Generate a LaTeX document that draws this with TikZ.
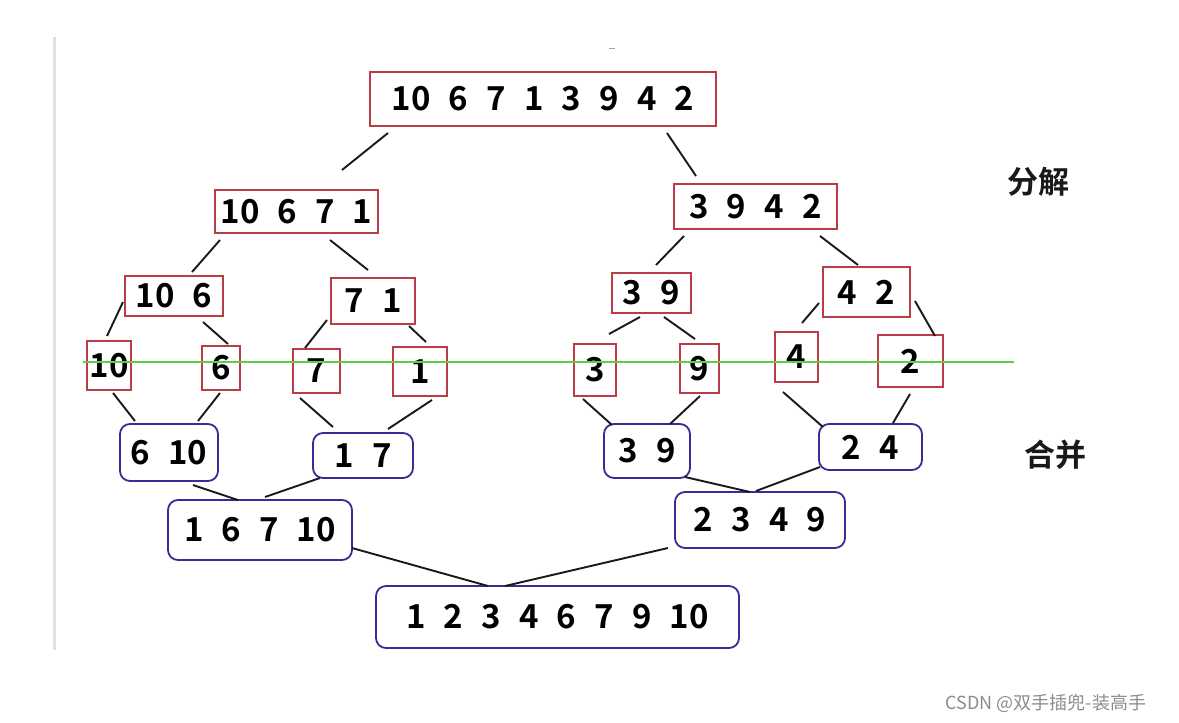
\documentclass[tikz,border=0pt]{standalone}
\usepackage{fontspec}
\setmainfont{Noto Sans CJK SC}[BoldFont={Noto Sans CJK SC Bold}]
\usetikzlibrary{calc}
\definecolor{boxred}{RGB}{185,60,70}
\definecolor{boxblue}{RGB}{55,45,150}
\definecolor{hline}{RGB}{95,205,70}
\newcommand{\gp}{\hspace{0.55em}}
\newcommand{\conn}[6]{\draw[conn] ([shift={(#2,#3)}]#1.center) -- ([shift={(#5,#6)}]#4.center);}
\tikzset{
  splitbox/.style={draw=boxred, line width=1.8pt, inner sep=0pt, font=\fontsize{33}{36}\selectfont\bfseries, text=black},
  mergebox/.style={draw=boxblue, line width=1.8pt, rounded corners=10pt, inner sep=0pt, font=\fontsize{33}{36}\selectfont\bfseries, text=black},
  conn/.style={line width=1.9pt, black!90},
  label/.style={font=\fontsize{31}{34}\selectfont\bfseries, text=black!90},
}
\begin{document}
\begin{tikzpicture}[x=1pt,y=-1pt]
\useasboundingbox[fill=white] (0,0) rectangle (1179,723);
\draw[line width=3pt, black!12] (54,37) -- (54,650);
\draw[line width=1pt, black!35] (609,48) -- (615,48);
% split tree
\node[splitbox, minimum width=346, minimum height=54] (top) at (543,99) {10\gp6\gp7\gp1\gp3\gp9\gp4\gp2};
\node[splitbox, minimum width=163, minimum height=43] (L1) at (296.5,211.5) {10\gp6\gp7\gp1};
\node[splitbox, minimum width=163, minimum height=45] (R1) at (755.5,206.5) {3\gp9\gp4\gp2};
\node[splitbox, minimum width=98, minimum height=40] (LL) at (174,296) {10\gp6};
\node[splitbox, minimum width=84, minimum height=46] (LR) at (373,301) {7\gp1};
\node[splitbox, minimum width=79, minimum height=40] (RL) at (651.5,293) {3\gp9};
\node[splitbox, minimum width=87, minimum height=50] (RR) at (866.5,292) {4\gp2};
\node[splitbox, minimum width=44, minimum height=49] (a10) at (109,365.5) {10};
\node[splitbox, minimum width=38, minimum height=44] (a6) at (221,368) {6};
\node[splitbox, minimum width=47, minimum height=44] (a7) at (316.5,371) {7};
\node[splitbox, minimum width=54, minimum height=49] (a1) at (420,371.5) {1};
\node[splitbox, minimum width=42, minimum height=52] (a3) at (595,370) {3};
\node[splitbox, minimum width=39, minimum height=49] (a9) at (699.5,368.5) {9};
\node[splitbox, minimum width=43, minimum height=50] (a4) at (796.5,357) {4};
\node[splitbox, minimum width=65, minimum height=52] (a2) at (910.5,361) {2};
% merge tree
\node[mergebox, minimum width=98, minimum height=57] (m1) at (169,452.5) {6\gp10};
\node[mergebox, minimum width=100, minimum height=45] (m2) at (363,455.5) {1\gp7};
\node[mergebox, minimum width=86, minimum height=54] (m3) at (647,451) {3\gp9};
\node[mergebox, minimum width=103, minimum height=46] (m4) at (870.5,447) {2\gp4};
\node[mergebox, minimum width=184, minimum height=60] (n1) at (260,530) {1\gp6\gp7\gp10};
\node[mergebox, minimum width=170, minimum height=56] (n2) at (760,520) {2\gp3\gp4\gp9};
\node[mergebox, minimum width=363, minimum height=62] (f) at (557.5,617) {1\gp2\gp3\gp4\gp6\gp7\gp9\gp10};
% connectors
\conn{top}{-155}{34}{L1}{45.5}{-41.5}
\conn{top}{124}{34}{R1}{-59.5}{-30.5}
\conn{L1}{-76.5}{28.5}{LL}{18}{-24}
\conn{L1}{33.5}{28.5}{LR}{-5}{-31}
\conn{R1}{-71.5}{29.5}{RL}{4.5}{-28}
\conn{R1}{64.5}{29.5}{RR}{-8.5}{-27}
\conn{LL}{-51}{6}{a10}{-2}{-29.5}
\conn{LL}{29}{26}{a6}{7}{-24}
\conn{LR}{-46}{19}{a7}{-11.5}{-23}
\conn{LR}{36}{25}{a1}{6}{-29.5}
\conn{RL}{-11.5}{24}{a3}{14}{-36}
\conn{RL}{12.5}{24}{a9}{-4.5}{-29.5}
\conn{RR}{-47.5}{11}{a4}{5.5}{-34}
\conn{RR}{48.5}{9}{a2}{24.5}{-25}
\conn{a10}{4}{27.5}{m1}{-34}{-31.5}
\conn{a6}{-1}{25}{m1}{29}{-31.5}
\conn{a7}{-16.5}{27}{m2}{-30}{-28.5}
\conn{a1}{12}{28.5}{m2}{25}{-26.5}
\conn{a3}{-12}{29}{m3}{-35}{-26}
\conn{a9}{0.5}{27.5}{m3}{23}{-27}
\conn{a4}{-13.5}{35}{m4}{-47.5}{-20}
\conn{a2}{-0.5}{33}{m4}{22.5}{-24}
\conn{m1}{24}{32.5}{n1}{-22}{-30}
\conn{m2}{-43}{22.5}{n1}{5}{-33}
\conn{m3}{38}{26}{n2}{-10}{-28}
\conn{m4}{-50.5}{20}{n2}{-4}{-29}
\conn{n1}{92}{18}{f}{-69.5}{-31}
\conn{n2}{-92}{28}{f}{-52.5}{-31}
% divider
\draw[hline, line width=1.6pt] (83,362) -- (1014,362);
% labels
\node[label] (fenjie) at (1038,182) {分解};
\node[label] (hebing) at (1055,455) {合并};
\node[font=\fontsize{18}{21}\selectfont, text=black!45] (wm) at (1046,703) {CSDN @双手插兜-装高手};
\end{tikzpicture}
\end{document}
